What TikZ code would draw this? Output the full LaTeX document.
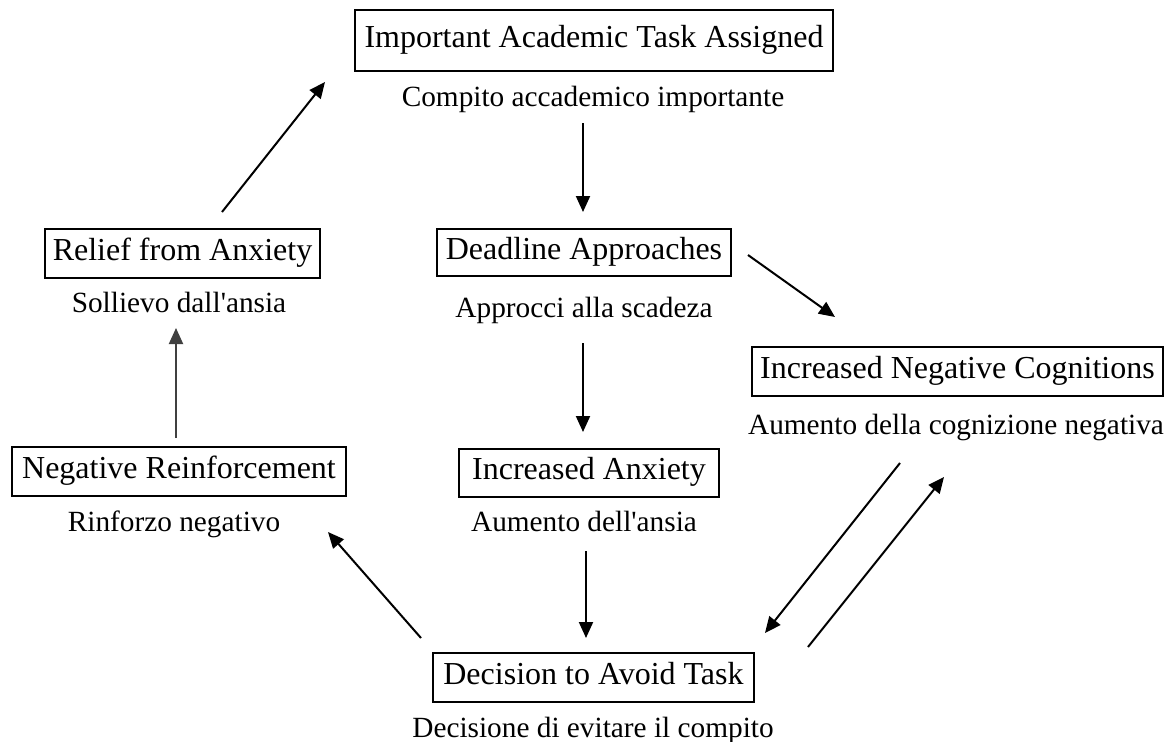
\documentclass[tikz,border=0pt]{standalone}
\usepackage{fontspec}
\setmainfont{Liberation Serif}
\usetikzlibrary{arrows.meta}
\tikzset{
  box/.style={draw, line width=1.2pt, inner sep=0pt, font=\fontsize{32}{36}\selectfont, text height=21pt, text depth=8pt},
  sub/.style={anchor=base, inner sep=0pt, font=\fontsize{29.3}{34}\selectfont},
  arr/.style={line width=2pt, -{Triangle[length=16pt,width=14pt]}},
}
\begin{document}
\begin{tikzpicture}[x=1pt,y=-1pt]
\useasboundingbox[fill=white] (0,0) rectangle (1171,742);
% boxes
\node[box, minimum width=478pt, minimum height=61pt] (imp) at (594,40.5) {Important Academic Task Assigned};
\node[box, minimum width=294pt, minimum height=47pt] (dead) at (584,252.5) {Deadline Approaches};
\node[box, minimum width=260pt, minimum height=48pt] (anx) at (589,473) {Increased Anxiety};
\node[box, minimum width=321pt, minimum height=49pt] (dec) at (593.5,677.5) {Decision to Avoid Task};
\node[box, minimum width=411pt, minimum height=49pt] (cog) at (957.5,371.5) {Increased Negative Cognitions};
\node[box, minimum width=275pt, minimum height=49pt] (rel) at (182.5,253.5) {Relief from Anxiety};
\node[box, minimum width=334pt, minimum height=49pt] (neg) at (179,471.5) {Negative Reinforcement};
% subtitles
\node[sub] (impS) at (593,106) {Compito accademico importante};
\node[sub] (deadS) at (584,317) {Approcci alla scadeza};
\node[sub] (anxS) at (584,531) {Aumento dell\textquotesingle ansia};
\node[sub] (decS) at (593,737) {Decisione di evitare il compito};
\node[sub] (cogS) at (956,434) {Aumento della cognizione negativa};
\node[sub] (relS) at (179,312) {Sollievo dall\textquotesingle ansia};
\node[sub] (negS) at (174,531) {Rinforzo negativo};
% arrow end points
\coordinate (a1s) at (583,123);  \coordinate (a1e) at (583,212);
\coordinate (a2s) at (583,343);  \coordinate (a2e) at (583,432);
\coordinate (a3s) at (586,551);  \coordinate (a3e) at (586,638);
\coordinate (a4s) at (748,255);  \coordinate (a4e) at (835,317);
\coordinate (a5s) at (900,463);  \coordinate (a5e) at (765,633);
\coordinate (a6s) at (808,647);  \coordinate (a6e) at (944,477);
\coordinate (a7s) at (421,638);  \coordinate (a7e) at (328,532);
\coordinate (a8s) at (176,438);  \coordinate (a8e) at (176,328);
\coordinate (a9s) at (222,212);  \coordinate (a9e) at (325,82);
% arrows
\draw[arr] (a1s) -- (a1e);
\draw[arr] (a2s) -- (a2e);
\draw[arr] (a3s) -- (a3e);
\draw[arr] (a4s) -- (a4e);
\draw[arr] (a5s) -- (a5e);
\draw[arr] (a6s) -- (a6e);
\draw[arr] (a7s) -- (a7e);
\draw[arr, draw=black!75, fill=black!75] (a8s) -- (a8e);
\draw[arr] (a9s) -- (a9e);
\end{tikzpicture}
\end{document}
